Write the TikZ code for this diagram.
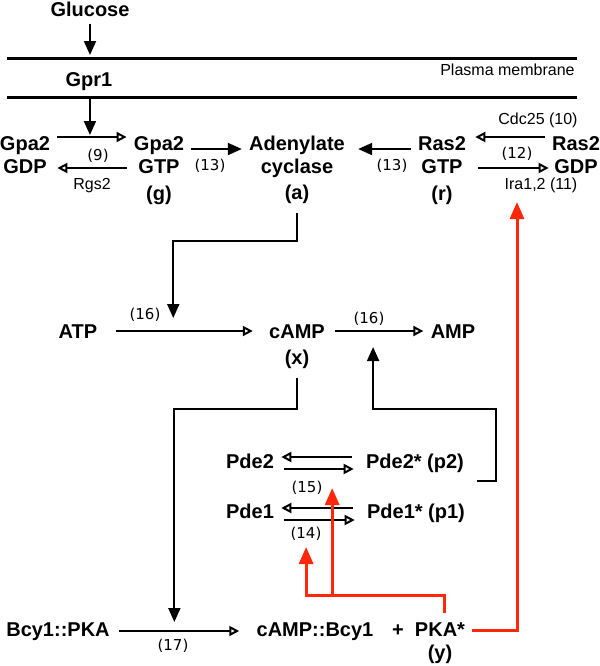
\documentclass[tikz,border=0pt]{standalone}
\usepackage{fontspec}
\setmainfont{Liberation Sans}
\newfontfamily\numfont{DejaVu Sans}
\usetikzlibrary{arrows.meta}
\definecolor{pkared}{RGB}{255,40,10}
\newcommand{\spstack}[1]{\begin{tabular}[t]{@{}c@{}}#1\end{tabular}}
\tikzset{
  species/.style={font=\fontsize{10}{11.5}\selectfont\bfseries, anchor=base, inner sep=3.5pt},
  enz/.style={font=\fontsize{8}{9}\selectfont, anchor=base, inner sep=0pt},
  num/.style={font=\numfont\fontsize{7.5}{9}\selectfont, anchor=base, inner sep=0pt},
  conv/.style={line width=1pt, -{Triangle[open, length=5pt, width=5pt]}},
  act/.style={line width=1pt, -{Triangle[length=7pt, width=6pt]}},
  pkact/.style={line width=1.5pt, pkared, -{Triangle[length=8.5pt, width=7pt]}},
  membrane/.style={line width=1.5pt}
}
\begin{document}
\begin{tikzpicture}[x=0.5pt, y=-0.5pt]
	\useasboundingbox (0,0) rectangle (600,666);
	% membrane
	\coordinate (m1l) at (7,58);
	\coordinate (m1r) at (577,58);
	\coordinate (m2l) at (7,97);
	\coordinate (m2r) at (577,97);
	\draw[membrane] (m1l) -- (m1r);
	\draw[membrane] (m2l) -- (m2r);
	\node (pm)[enz, anchor=base east] at(575,75) {Plasma membrane};
	\node (glucose)[species] at(90,16) {Glucose};
	\node (gpr1)[species] at(89,86) {Gpr1};

	% species
	\node (gdp)[species] at(25,150) {\spstack{Gpa2\\GDP}};
	\node (gtp)[species] at(159,150) {\spstack{Gpa2\\GTP\\[2pt](g)}};
	\node (adc)[species] at(297,150) {\spstack{Adenylate\\cyclase\\[1.5pt](a)}};
	\node (rtp)[species] at(442,150) {\spstack{Ras2\\GTP\\[2pt](r)}};
	\node (rdp)[species] at(576,150) {\spstack{Ras2\\GDP}};
	\node (atp)[species] at(78,338) {ATP};
	\node (camp)[species] at(297,338) {\spstack{cAMP\\[1.5pt](x)}};
	\node (amp)[species] at(453,338) {AMP};
	\node (pde2)[species] at(250,468) {Pde2};
	\node (pde2s)[species] at(415,468) {Pde2* (p2)};
	\node (pde1)[species] at(250,518) {Pde1};
	\node (pde1s)[species] at(416,518) {Pde1* (p1)};
	\node (bcy)[species] at(58,636) {Bcy1::PKA};
	\node (cbcy)[species] at(315,636) {cAMP::Bcy1};
	\node (plus)[species] at(398,636) {+};
	\node (pka)[species] at(440,636) {\spstack{PKA*\\(y)}};

	% reactions
	\draw[conv] ([yshift=6.5pt]gdp.base east) -- coordinate[pos=0.47] (r9) ([yshift=6.5pt]gtp.base west);
	\draw[conv] ([yshift=-9pt]gtp.base west) -- ([yshift=-9pt]gdp.base east);
	\draw[act] ([yshift=0.5pt]gtp.base east) -- ([yshift=0.5pt]adc.base west);
	\draw[act] ([yshift=0.5pt]rtp.base west) -- ([yshift=0.5pt, xshift=3pt]adc.base east);
	\draw[conv] ([yshift=6.5pt]rdp.base west) -- ([yshift=6.5pt, xshift=1pt]rtp.base east);
	\draw[conv] ([yshift=-9pt, xshift=2.5pt]rtp.base east) -- coordinate[pos=0.55] (r11) ([yshift=-9pt, xshift=2pt]rdp.base west);
	\draw[conv] ([yshift=3.5pt, xshift=5.5pt]atp.base east) -- coordinate[pos=0.42] (r16a) ([yshift=3.5pt, xshift=-4.5pt]camp.base west);
	\draw[conv] ([yshift=3.5pt, xshift=1.5pt]camp.base east) -- coordinate[pos=0.43] (r16b) ([yshift=3.5pt]amp.base west);
	\draw[conv] ([yshift=5.5pt, xshift=-3.5pt]pde2s.base west) -- ([yshift=5.5pt]pde2.base east);
	\draw[conv] ([yshift=-0.5pt, xshift=1.5pt]pde2.base east) -- coordinate[pos=0.69] (r15) ([yshift=-0.5pt, xshift=-2.5pt]pde2s.base west);
	\draw[conv] ([yshift=5pt, xshift=-3.5pt]pde1s.base west) -- ([yshift=5pt]pde1.base east);
	\draw[conv] ([yshift=-1pt, xshift=1.5pt]pde1.base east) -- coordinate[pos=0.31] (r14) ([yshift=-1pt, xshift=-2.5pt]pde1s.base west);
	\draw[conv] ([yshift=2.5pt, xshift=1pt]bcy.base east) -- coordinate[pos=0.46] (r17) ([yshift=2.5pt, xshift=-5pt]cbcy.base west);

	% labels
	\node (l9)[num] at(98,160) {(9)};
	\node (lrgs)[enz] at(92,189) {Rgs2};
	\node (l13a)[num] at(210,170) {(13)};
	\node (l13b)[num] at(392,170) {(13)};
	\node (lcdc)[enz] at(538,124) {Cdc25 (10)};
	\node (l12)[num] at(517,158) {(12)};
	\node (lira)[enz] at(541,189) {Ira1,2 (11)};
	\node (l16a)[num] at(145,319) {(16)};
	\node (l16b)[num] at(369,323) {(16)};
	\node (l15)[num] at(307,492) {(15)};
	\node (l14)[num] at(306,538) {(14)};
	\node (l17)[num] at(173,650) {(17)};

	% activations
	\draw[act] (glucose.south) -- ([yshift=1.5pt]glucose |- m1l);
	\draw[act] (r9 |- m2l) -- ([yshift=1pt]r9);
	\draw[act] (adc.south) -- ++(0,28) -| ([yshift=6.5pt]r16a);
	\draw[act] (camp.south) -- ++(0,31) -| ([yshift=4.5pt]r17);
	\draw[act] ([yshift=-6.5pt, xshift=3pt]pde2s.base east) -- ++(19,0) -- ++(0,-72) -| ([yshift=-8pt]r16b);

	% PKA feedback
	\draw[pkact] ([yshift=3pt]pka.base east) -| ([yshift=-17pt]r11);
	\draw[pkact] ([xshift=2pt]pka.north) -- ++(0,-17) coordinate (kink) -| ([yshift=-13.5pt]r14);
	\draw[pkact] (kink -| r15) -- ([yshift=-9.5pt]r15);
\end{tikzpicture}
\end{document}
